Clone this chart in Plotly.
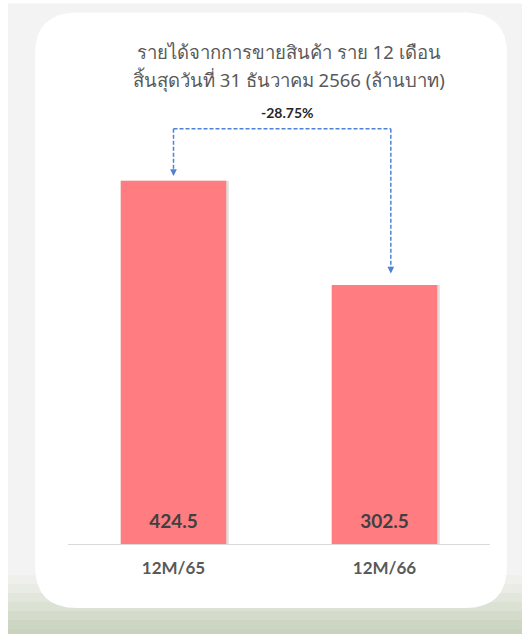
import plotly.graph_objects as go

categories = ["12M/65", "12M/66"]
revenue = [424.5, 302.5]
value_labels = ["424.5", "302.5"]
change_label = "-28.75%"
title_line1 = "รายได้จากการขายสินค้า ราย 12 เดือน"
title_line2 = "สิ้นสุดวันที่ 31 ธันวาคม 2566 (ล้านบาท)"

W, H = 522, 634
L, R, T, B = 68, 32, 116.4, 90
PW, PH = W - L - R, H - T - B


def px(x):
    return (x - L) / PW


def py(y):
    return (H - B - y) / PH


fig = go.Figure()
# soft shadow behind bars
fig.add_trace(go.Bar(
    x=categories, y=revenue, width=0.512, offset=-0.25,
    marker=dict(color="rgba(0,0,0,0.13)", line=dict(width=0)),
    hoverinfo="skip",
))
fig.add_trace(go.Bar(
    x=categories, y=revenue, width=0.5, offset=-0.25,
    marker=dict(color="#FF7C80", line=dict(width=0)),
    hoverinfo="skip",
))
fig.add_trace(go.Scatter(
    x=categories, y=[24.5] * len(categories), mode="text", text=value_labels,
    textposition="middle center",
    textfont=dict(family="Lato", size=19, color="#404040", weight="bold"),
    hoverinfo="skip",
))

shapes = []
# outer background
shapes.append(dict(type="rect", xref="paper", yref="paper", layer="below",
                   x0=px(8), x1=px(W), y0=py(H), y1=py(4),
                   fillcolor="#f3f3f3", line=dict(width=0)))
bands = ["#eff0ec", "#e9ece5", "#e2e6dc", "#dbe1d3", "#d4dbcb", "#cdd6c3", "#c8d2bd"]
for i, c in enumerate(bands):
    y0 = 575 + i * 9
    shapes.append(dict(type="rect", xref="paper", yref="paper", layer="below",
                       x0=px(8), x1=px(W), y0=py(H), y1=py(y0),
                       fillcolor=c, line=dict(width=0)))
# white rounded card
x0c, x1c, y0c, y1c, r = 35, 507, 13, 608, 42
path = (f"M {px(x0c + r)} {py(y0c)} L {px(x1c - r)} {py(y0c)} "
        f"Q {px(x1c)} {py(y0c)} {px(x1c)} {py(y0c + r)} "
        f"L {px(x1c)} {py(y1c - r)} Q {px(x1c)} {py(y1c)} {px(x1c - r)} {py(y1c)} "
        f"L {px(x0c + r)} {py(y1c)} Q {px(x0c)} {py(y1c)} {px(x0c)} {py(y1c - r)} "
        f"L {px(x0c)} {py(y0c + r)} Q {px(x0c)} {py(y0c)} {px(x0c + r)} {py(y0c)} Z")
shapes.append(dict(type="path", xref="paper", yref="paper", layer="below", path=path,
                   fillcolor="#ffffff", line=dict(width=0)))

# dashed bracket
ac = "#4f81d6"
dash = dict(color=ac, width=1.5, dash="4px,2px")
top_y = 485
left_head, right_head = 430, 316
xl, xr = 0, 1.03
shapes.append(dict(type="line", xref="x", yref="y", x0=xl, x1=xr, y0=top_y, y1=top_y, line=dash))
shapes.append(dict(type="line", xref="x", yref="y", x0=xl, x1=xl, y0=top_y, y1=left_head + 5, line=dash))
shapes.append(dict(type="line", xref="x", yref="y", x0=xr, x1=xr, y0=top_y, y1=right_head + 5, line=dash))

annotations = [
    dict(x=xl, y=left_head, xref="x", yref="y", ax=0, ay=-6, text="", showarrow=True,
         arrowhead=2, arrowsize=0.9, arrowwidth=1.5, arrowcolor=ac),
    dict(x=xr, y=right_head, xref="x", yref="y", ax=0, ay=-6, text="", showarrow=True,
         arrowhead=2, arrowsize=0.9, arrowwidth=1.5, arrowcolor=ac),
    dict(x=px(287.5), y=py(113), xref="paper", yref="paper", text=change_label, showarrow=False,
         xanchor="center", yanchor="middle",
         font=dict(family="Lato", size=14, color="#262626", weight="bold")),
    dict(x=px(289), y=py(52), xref="paper", yref="paper", text=title_line1, showarrow=False,
         xanchor="center", yanchor="middle",
         font=dict(family="Noto Sans", size=18.5, color="#595959")),
    dict(x=px(289), y=py(80), xref="paper", yref="paper", text=title_line2, showarrow=False,
         xanchor="center", yanchor="middle",
         font=dict(family="Noto Sans", size=18.5, color="#595959")),
]

fig.update_layout(
    width=W, height=H,
    margin=dict(l=L, r=R, t=T, b=B, pad=0),
    paper_bgcolor="#ffffff", plot_bgcolor="rgba(0,0,0,0)",
    showlegend=False, barmode="overlay", hovermode=False,
    shapes=shapes, annotations=annotations,
    xaxis=dict(type="category", range=[-0.5, 1.5], showline=True, linecolor="#d9d9d9",
               linewidth=1, showgrid=False, zeroline=False, ticks="",
               ticklabelstandoff=9, fixedrange=True,
               tickfont=dict(family="Lato", size=17, color="#595959", weight="bold")),
    yaxis=dict(range=[0, 500], visible=False, showgrid=False, zeroline=False, fixedrange=True),
)

fig.write_html("out.html", config={"displayModeBar": False},
               post_script="document.body.style.margin='0';document.body.style.overflow='hidden';")
